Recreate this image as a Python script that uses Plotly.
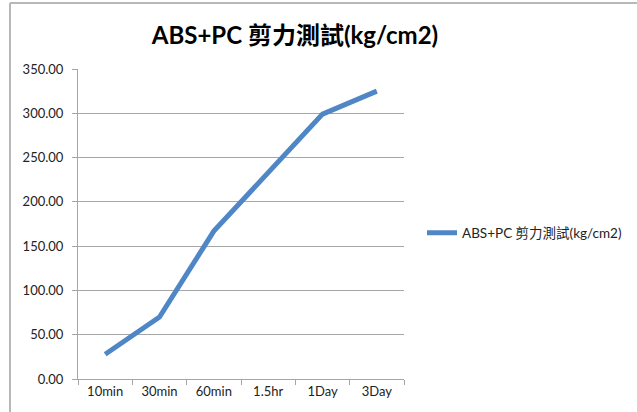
import plotly.graph_objects as go

categories = ["10min", "30min", "60min", "1.5hr", "1Day", "3Day"]
values = [28.0, 70.0, 167.0, 233.0, 299.0, 325.0]
series_name = "ABS+PC 剪力測試(kg/cm2)"
title_text = "ABS+PC 剪力測試(kg/cm2)"
y_ticks = [0, 50, 100, 150, 200, 250, 300, 350]
y_tick_labels = ["0.00", "50.00", "100.00", "150.00", "200.00", "250.00", "300.00", "350.00"]

W, H = 637, 412
L, R, T, B = 78, 233, 69, 33
pw, ph = W - L - R, H - T - B

FONT = "Lato, 'Noto Sans CJK TC', sans-serif"

fig = go.Figure()
fig.add_trace(go.Scatter(
    x=categories, y=values, mode="lines", name=series_name,
    line=dict(color="#4F86C6", width=5),
))

def px_x(p):
    return (p - L) / pw

def px_y(p):
    return (H - B - p) / ph

# outer frame (left and top edges)
fig.add_shape(type="line", xref="paper", yref="paper",
              x0=px_x(10), x1=px_x(10), y0=px_y(3), y1=px_y(412),
              line=dict(color="#b8b8b8", width=2))
fig.add_shape(type="line", xref="paper", yref="paper",
              x0=px_x(10), x1=px_x(637), y0=px_y(3), y1=px_y(3),
              line=dict(color="#b8b8b8", width=2))

fig.update_layout(
    width=W, height=H,
    margin=dict(l=L, r=R, t=T, b=B, autoexpand=False),
    paper_bgcolor="white", plot_bgcolor="white",
    font=dict(family=FONT, size=12, color="#222222"),
    title=dict(text="<b>" + title_text + "</b>", x=295 / W, xanchor="center",
               y=1 - 36 / H, yanchor="middle",
               font=dict(family=FONT, size=24, color="#000000")),
    showlegend=True,
    legend=dict(x=px_x(422), y=px_y(233), xanchor="left", yanchor="middle",
                font=dict(family=FONT, size=13.5, color="#222222"),
                bgcolor="rgba(0,0,0,0)", itemwidth=30, tracegroupgap=0),
    xaxis=dict(
        type="category", range=[-0.5, len(categories) - 0.5],
        showline=True, linecolor="#a6a6a6", linewidth=1,
        ticks="outside", ticklen=5, tickcolor="#a6a6a6",
        tickson="boundaries", showgrid=False, zeroline=False,
        tickfont=dict(family=FONT, size=13, color="#222222"),
    ),
    yaxis=dict(
        range=[0, 350], tickvals=y_ticks, ticktext=y_tick_labels,
        showline=True, linecolor="#a6a6a6", linewidth=1,
        ticks="outside", ticklen=5, tickcolor="#a6a6a6",
        showgrid=True, gridcolor="#a6a6a6", gridwidth=1, zeroline=False,
        tickfont=dict(family=FONT, size=13, color="#222222"),
        ticklabelstandoff=6,
    ),
)

fig.write_html("out.html", config={"displayModeBar": False},
               post_script="document.body.style.margin='0';document.body.style.padding='0';")
